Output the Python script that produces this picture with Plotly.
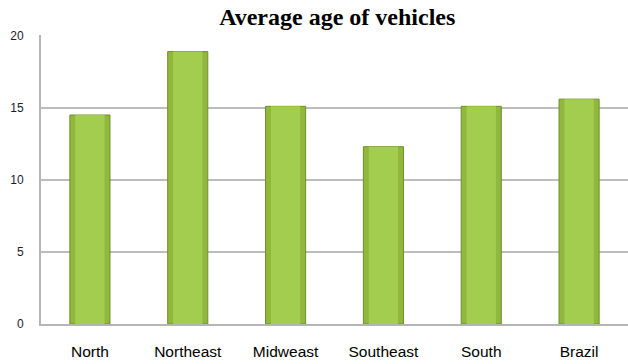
import plotly.graph_objects as go

categories = ["North", "Northeast", "Midweast", "Southeast", "South", "Brazil"]
avg_age = [14.5, 18.9, 15.1, 12.3, 15.1, 15.6]
y_ticks = [0, 5, 10, 15, 20]

fig = go.Figure()
fig.add_trace(go.Bar(
    x=categories, y=avg_age, width=0.41,
    marker=dict(color="#8fb83c", line=dict(color="#6f8f2c", width=1)),
    hoverinfo="skip",
))
fig.add_trace(go.Bar(
    x=categories, y=avg_age, width=0.30,
    marker=dict(color="#a3cd4f", line=dict(width=0)),
    hoverinfo="skip",
))

fig.update_layout(
    width=628, height=364,
    margin=dict(l=41, r=0, t=35, b=40),
    paper_bgcolor="white", plot_bgcolor="white",
    barmode="overlay",
    showlegend=False,
    title=dict(text="<b>Average age of vehicles</b>", x=0.537, xanchor="center",
               y=0.955, yanchor="middle",
               font=dict(family="Liberation Serif", size=24, color="black")),
    xaxis=dict(showgrid=False, showline=True, linecolor="#b5b5b5", linewidth=2,
               ticks="", ticklabelstandoff=12,
               tickfont=dict(family="Liberation Sans", size=15.5, color="black")),
    yaxis=dict(range=[0, 20.05], tickvals=y_ticks, showgrid=True,
               gridcolor="#bdbdbd", gridwidth=2, zeroline=False,
               showline=True, linecolor="#b5b5b5", linewidth=2,
               ticks="", ticklabelstandoff=13,
               tickfont=dict(family="Liberation Sans", size=12, color="#1a1a2e")),
)

fig.write_html("out.html")
